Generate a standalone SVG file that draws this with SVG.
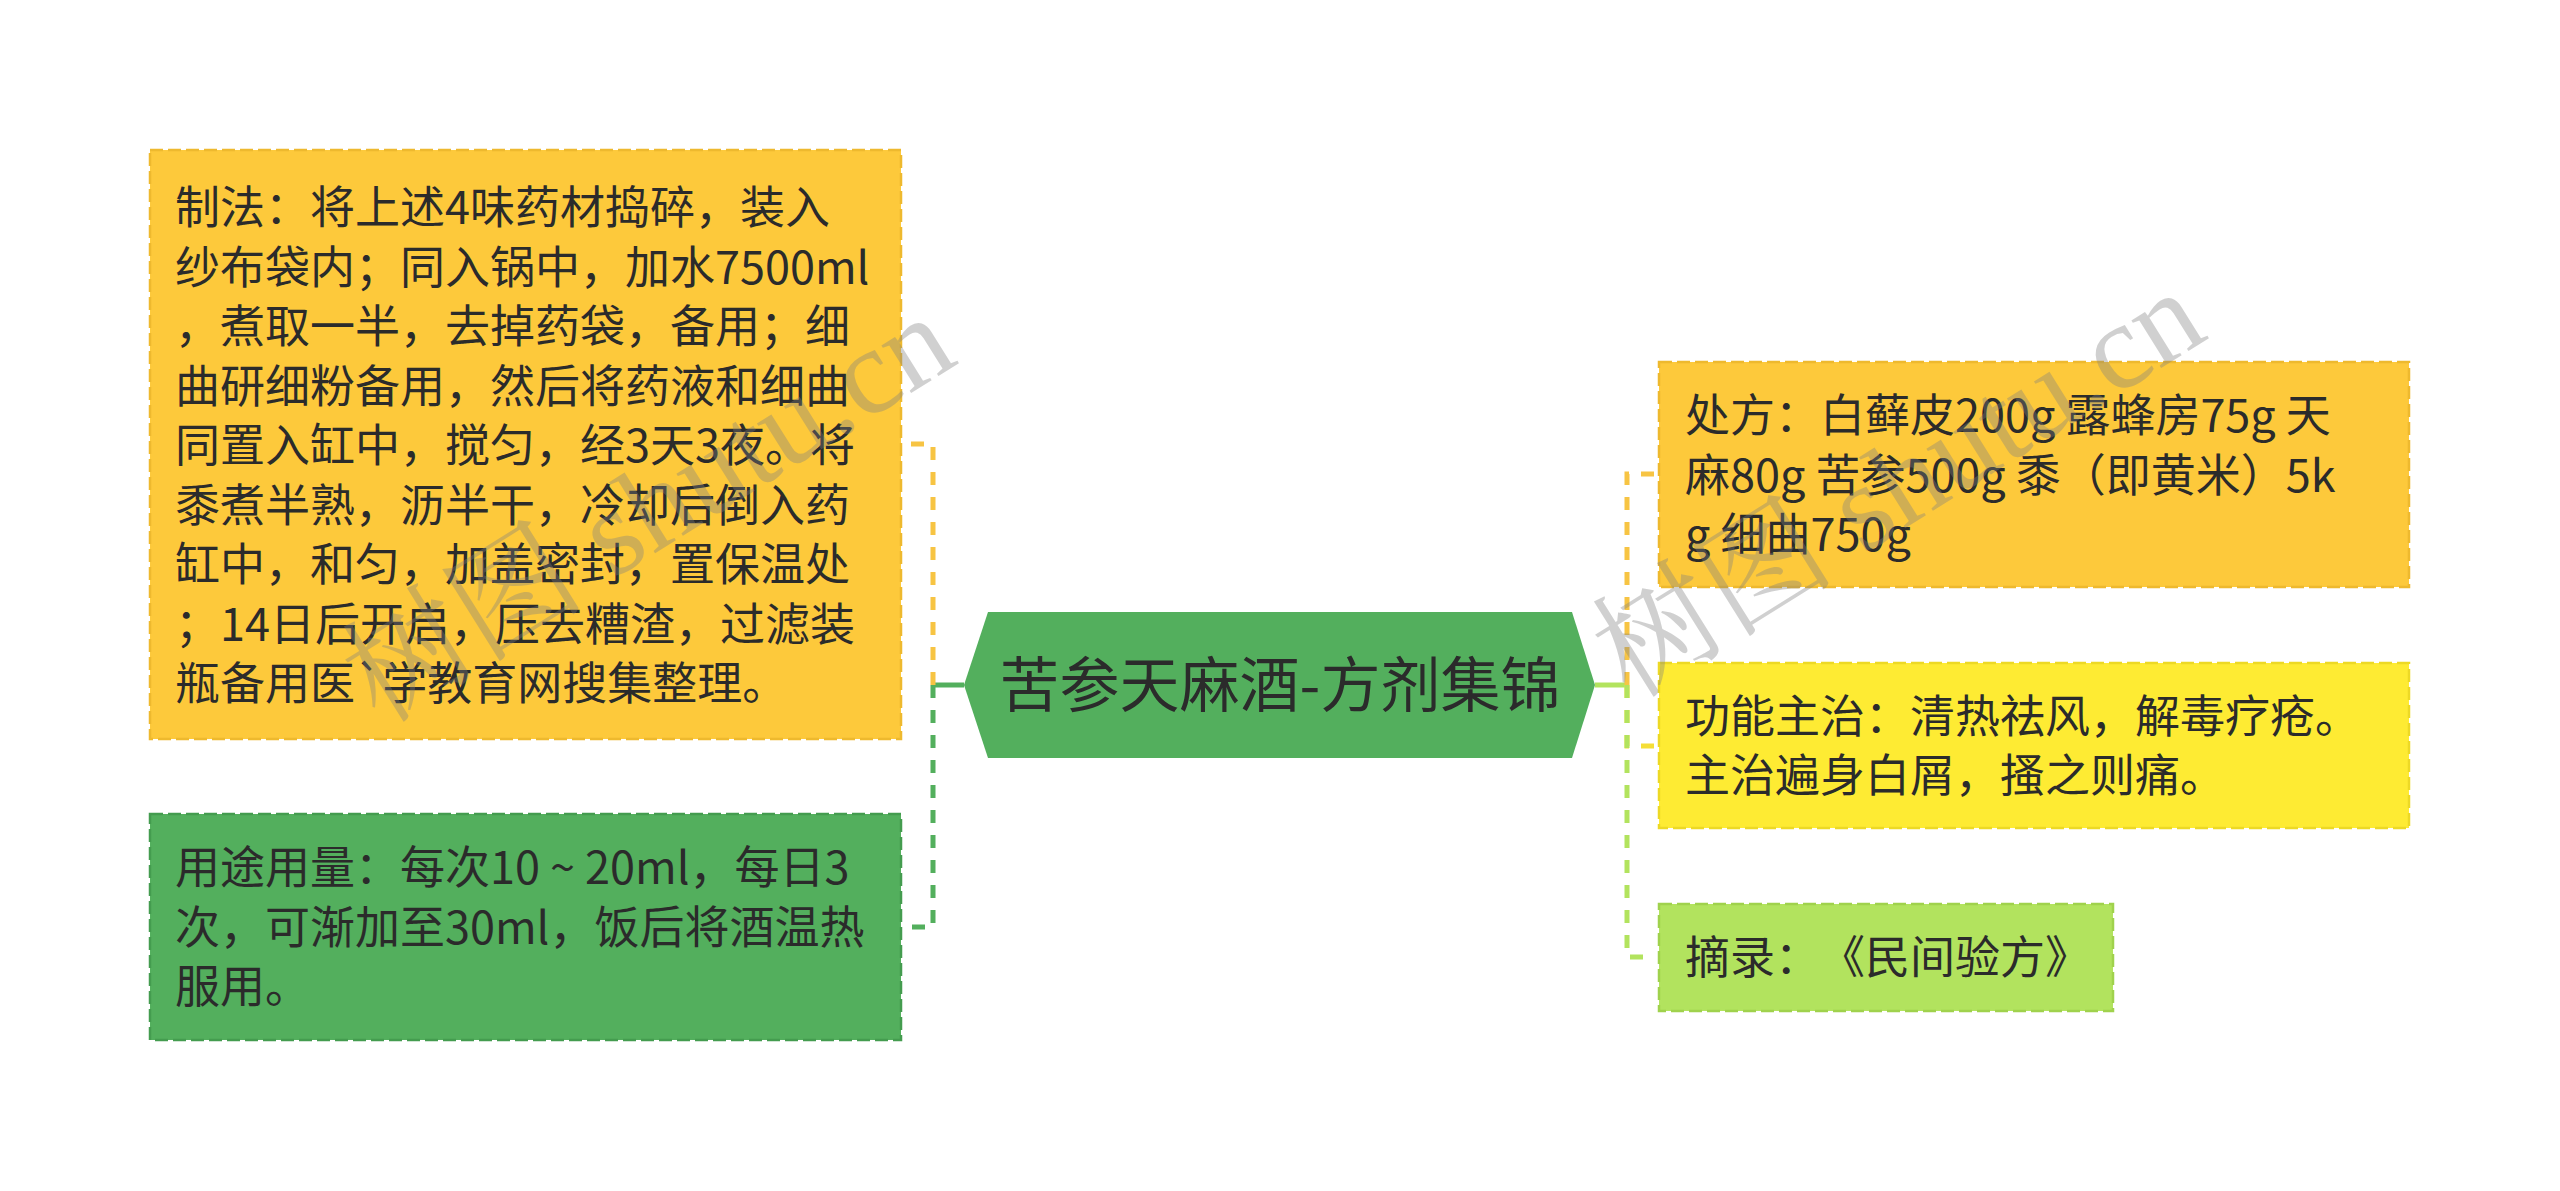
<svg xmlns="http://www.w3.org/2000/svg" width="2560" height="1191" viewBox="0 0 2560 1191">
<style>
  .t{font-family:"Noto Sans CJK SC","Noto Sans",sans-serif;font-size:45px;fill:#2b2b2b;text-spacing-trim:space-all;font-kerning:none}
  .title{font-family:"Noto Sans CJK SC","Noto Sans",sans-serif;font-size:60px;fill:#2b2b2b}
  .dash{fill:none;stroke-width:5;stroke-dasharray:13 12}
  .solid{fill:none;stroke-width:5}
  .box{stroke-width:2.5;stroke-dasharray:13 5}
  .wm{font-family:"Liberation Serif","Noto Serif CJK SC","Noto Sans CJK SC",serif;font-size:122px;fill:#808080;opacity:0.36}
</style>
<rect width="2560" height="1191" fill="#ffffff"/>
<g id="connectors">
  <path class="solid" d="M964 685H933" stroke="#53AF5D"/>
  <path class="dash" d="M933 685V444H906" stroke="#F7C443"/>
  <path class="dash" d="M933 685V927H906" stroke="#53AF5D"/>
  <path class="solid" d="M1595 685H1627" stroke="#B2E35E"/>
  <path class="dash" d="M1627 685V474H1655" stroke="#F7C443"/>
  <path class="dash" d="M1627 685V746H1655" stroke="#F5DE36"/>
  <path class="dash" d="M1627 685V957H1655" stroke="#B2E35E"/>
</g>
<g id="center">
  <polygon points="964,685 988,612 1572,612 1595,685 1572,758 988,758" fill="#53AF5D"/>
  <text class="title" x="1280" y="707" text-anchor="middle">苦参天麻酒-方剂集锦</text>
</g>
<g id="node-zhifa">
  <rect class="box" x="150" y="150" width="751" height="589" fill="#FDC93B" stroke="#EEB92E"/>
  <text class="t">
    <tspan x="175" y="224">制法：将上述4味药材捣碎，装入</tspan>
    <tspan x="175" y="283.5">纱布袋内；同入锅中，加水7500ml</tspan>
    <tspan x="175" y="343">，煮取一半，去掉药袋，备用；细</tspan>
    <tspan x="175" y="402.5">曲研细粉备用，然后将药液和细曲</tspan>
    <tspan x="175" y="462">同置入缸中，搅匀，经3天3夜。将</tspan>
    <tspan x="175" y="521.5">黍煮半熟，沥半干，冷却后倒入药</tspan>
    <tspan x="175" y="581">缸中，和匀，加盖密封，置保温处</tspan>
    <tspan x="175" y="640.5">；14日后开启，压去糟渣，过滤装</tspan>
    <tspan x="175" y="700">瓶备用医`学教育网搜集整理。</tspan>
  </text>
</g>
<g id="node-yongtu">
  <rect class="box" x="150" y="814" width="751" height="226" fill="#53AF5D" stroke="#449C4F"/>
  <text class="t">
    <tspan x="175" y="884">用途用量：每次10 ~ 20ml，每日3</tspan>
    <tspan x="175" y="944">次，可渐加至30ml，饭后将酒温热</tspan>
    <tspan x="175" y="1003">服用。</tspan>
  </text>
</g>
<g id="node-chufang">
  <rect class="box" x="1659" y="362" width="750" height="225" fill="#FDC93B" stroke="#EEB92E"/>
  <text class="t">
    <tspan x="1685" y="432">处方：白藓皮200g 露蜂房75g 天</tspan>
    <tspan x="1685" y="492">麻80g 苦参500g 黍（即黄米）5k</tspan>
    <tspan x="1685" y="551">g 细曲750g</tspan>
  </text>
</g>
<g id="node-gongneng">
  <rect class="box" x="1659" y="663" width="750" height="165" fill="#FEEB33" stroke="#EDD925"/>
  <text class="t">
    <tspan x="1685" y="733">功能主治：清热祛风，解毒疗疮。</tspan>
    <tspan x="1685" y="792">主治遍身白屑，搔之则痛。</tspan>
  </text>
</g>
<g id="node-zhailu">
  <rect class="box" x="1659" y="904" width="454" height="107" fill="#B2E35E" stroke="#A0D24D"/>
  <text class="t" x="1685" y="974">摘录：《民间验方》</text>
</g>
<g id="watermarks">
  <text class="wm" transform="translate(380,725) rotate(-32)">树图 shutu.cn</text>
  <text class="wm" transform="translate(1630,700) rotate(-32)">树图 shutu.cn</text>
</g>
</svg>
